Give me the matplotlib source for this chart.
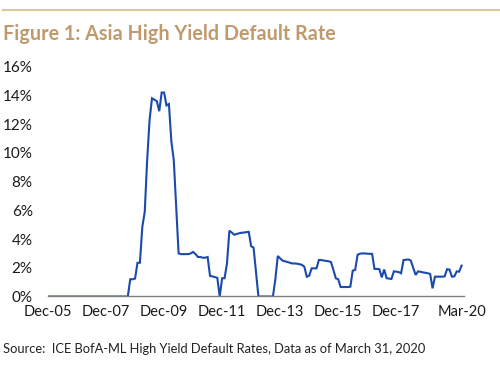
import numpy as np
import matplotlib
matplotlib.use("Agg")
import matplotlib.pyplot as plt
from matplotlib.lines import Line2D

# Monthly Asia HY default rate (%), Dec-05 .. Mar-20
rates_2005_2008 = [0.0] * 34  # Dec-05 .. Sep-08
rates_2008_2011 = [1.2, 1.2, 1.25, 2.35, 2.35, 4.85, 5.9, 9.5, 12.3, 13.8,
                   13.7, 13.6, 12.9, 14.2, 14.2, 13.3, 13.4, 10.8, 9.5, 6.3,
                   3.0, 2.95, 2.95, 2.95, 2.95, 3.0, 3.1, 2.95, 2.75, 2.75,
                   2.7, 2.7, 2.75]
rates_2011_2014 = [1.43, 1.4, 1.35, 1.3, 0.0, 1.27, 1.27, 2.3, 4.58, 4.45,
                   4.3, 4.35, 4.4, 4.44, 4.45, 4.48, 4.5, 3.5, 3.4, 1.7,
                   0.0, 0.0, 0.0, 0.0, 0.0, 0.0, 0.0, 1.2, 2.82, 2.65,
                   2.5, 2.45, 2.4, 2.35, 2.3, 2.3, 2.28, 2.25, 2.2, 2.07]
rates_2014_2017 = [1.38, 1.45, 1.96, 1.96, 1.96, 2.54, 2.54, 2.5, 2.48, 2.45,
                   2.4, 1.85, 1.27, 1.2, 0.66, 0.66, 0.66, 0.66, 0.68, 1.8,
                   1.85, 2.9, 2.98, 3.0, 3.0, 2.98, 2.97, 2.97, 1.92, 1.92,
                   1.9, 1.33, 1.88, 1.27, 1.25, 1.22, 1.75, 1.73, 1.7, 1.62]
rates_2018_2020 = [2.54, 2.56, 2.58, 2.5, 2.0, 1.5, 1.75, 1.72, 1.68, 1.65,
                   1.62, 1.57, 0.57, 1.38, 1.38, 1.38, 1.38, 1.4, 1.9, 1.88,
                   1.38, 1.4, 1.75, 1.73, 2.15]

default_rate = np.array(rates_2005_2008 + rates_2008_2011 + rates_2011_2014
                        + rates_2014_2017 + rates_2018_2020)
months = np.arange(len(default_rate))

tick_months = [0, 24, 48, 72, 96, 120, 144, 171]
tick_labels = ["Dec-05", "Dec-07", "Dec-09", "Dec-11", "Dec-13", "Dec-15", "Dec-17", "Mar-20"]
y_ticks = [0, 2, 4, 6, 8, 10, 12, 14, 16]

plt.rcParams['font.family'] = ['Lato', 'DejaVu Sans']

fig = plt.figure(figsize=(5, 3.68), dpi=100)
ax = fig.add_axes([0.096, 0.1943, 0.832, 0.6245])

ax.plot(months, default_rate, color='#1a4aab', linewidth=1.5, solid_joinstyle='miter')

ax.set_xlim(0, 172)
ax.set_ylim(0, 16)
ax.set_xticks(tick_months)
ax.set_xticklabels(tick_labels)
ax.set_yticks(y_ticks)
ax.set_yticklabels(["{}%".format(v) for v in y_ticks])
ax.tick_params(length=0, labelsize=10.5, colors='#1a1a1a', pad=6)
ax.tick_params(axis='y', labelsize=11, pad=11)

for side in ['top', 'right', 'left']:
    ax.spines[side].set_visible(False)
ax.spines['bottom'].set_color('#808080')
ax.spines['bottom'].set_linewidth(1.0)

# top rule and title
fig.add_artist(Line2D([0.006, 1.0], [1 - 10 / 368, 1 - 10 / 368],
                      color='#dcc7a5', linewidth=1.5))
fig.text(0.006, 1 - 34 / 368, "Figure 1: Asia High Yield Default Rate",
         fontsize=14.2, fontweight='bold', color='#c19a6b', va='center')

fig.text(0.006, 1 - 349 / 368,
         "Source:  ICE BofA-ML High Yield Default Rates, Data as of March 31, 2020",
         fontsize=9.3, color='#222222', va='center')

fig.savefig("out.png", dpi=100)
